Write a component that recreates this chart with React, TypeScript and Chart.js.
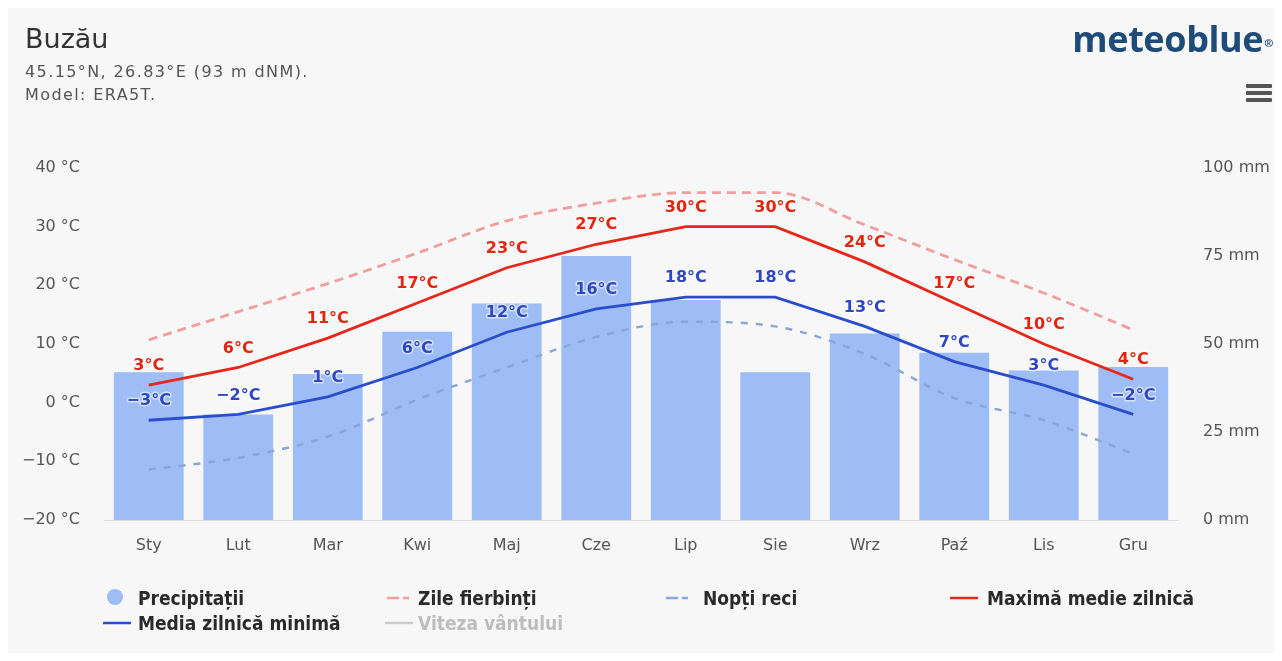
import React, { useEffect, useRef } from "react";
import { Chart, registerables } from "chart.js";

Chart.register(...registerables);

// Monthly climate values for Buzău
const months = ["Sty", "Lut", "Mar", "Kwi", "Maj", "Cze", "Lip", "Sie", "Wrz", "Paź", "Lis", "Gru"];
const precipitation = [42, 30, 41.5, 53.5, 61.5, 75, 62.5, 42, 53, 47.5, 42.5, 43.5];
const hotDays = [10.7, 15.5, 20.3, 25.5, 31, 34, 35.8, 35.8, 30.3, 24.4, 18.7, 12.4];
const coldNights = [-11.4, -9.4, -5.8, 0.5, 6, 11.2, 13.8, 13, 8.3, 0.8, -3, -8.7];
const maxDaily = [3, 6, 11, 17, 23, 27, 30, 30, 24, 17, 10, 4];
const minDaily = [-3, -2, 1, 6, 12, 16, 18, 18, 13, 7, 3, -2];

const tempTicks = [-20, -10, 0, 10, 20, 30, 40];
const precipTicks = [0, 25, 50, 75, 100];

const W = 1266;
const H = 645;

const fmtTemp = (v: number) => (v < 0 ? "\u2212" + Math.abs(v) : String(v));

// Draws the "x°C" value above each point of the temperature lines
const valueLabels = {
  id: "valueLabels",
  afterDatasetsDraw(chart: any) {
    const ctx = chart.ctx;
    chart.data.datasets.forEach((ds: any, i: number) => {
      if (!ds.labelColor) return;
      const meta = chart.getDatasetMeta(i);
      ctx.save();
      ctx.font = 'bold 16px "DejaVu Sans", sans-serif';
      ctx.textAlign = "center";
      ctx.textBaseline = "middle";
      ctx.lineJoin = "round";
      meta.data.forEach((pt: any, j: number) => {
        const text = fmtTemp(ds.data[j]) + "°C";
        const y = pt.y - 19;
        ctx.strokeStyle = "rgba(255,255,255,0.55)";
        ctx.lineWidth = 3;
        ctx.strokeText(text, pt.x, y);
        ctx.fillStyle = ds.labelColor;
        ctx.fillText(text, pt.x, y);
      });
      ctx.restore();
    });
  },
};

const legendText: React.CSSProperties = {
  position: "absolute",
  font: 'bold 19px "DejaVu Sans Condensed", "DejaVu Sans", sans-serif',
  color: "#2a2a2a",
  lineHeight: "20px",
  whiteSpace: "nowrap",
};

function LineIcon({ x, y, color, dash }: { x: number; y: number; color: string; dash?: string }) {
  return (
    <svg style={{ position: "absolute", left: x, top: y - 3 }} width={28} height={6}>
      <line x1={0} y1={3} x2={28} y2={3} stroke={color} strokeWidth={2.5} strokeDasharray={dash} />
    </svg>
  );
}

export default function App() {
  const canvasRef = useRef<HTMLCanvasElement | null>(null);

  useEffect(() => {
    if (!canvasRef.current) return;
    const chart = new Chart(canvasRef.current, {
      type: "bar",
      data: {
        labels: months,
        datasets: [
          {
            type: "line",
            label: "Maximă medie zilnică",
            data: maxDaily,
            yAxisID: "yTemp",
            borderColor: "#e8261a",
            borderWidth: 2.8,
            pointRadius: 0,
            tension: 0,
            order: 1,
            labelColor: "#e3260f",
          } as any,
          {
            type: "line",
            label: "Media zilnică minimă",
            data: minDaily,
            yAxisID: "yTemp",
            borderColor: "#2a4ecb",
            borderWidth: 2.8,
            pointRadius: 0,
            tension: 0,
            order: 2,
            labelColor: "#2f47c2",
          } as any,
          {
            type: "line",
            label: "Zile fierbinți",
            data: hotDays,
            yAxisID: "yTemp",
            borderColor: "#f39e9e",
            borderWidth: 2.8,
            borderDash: [9, 6],
            pointRadius: 0,
            cubicInterpolationMode: "monotone",
            order: 3,
          },
          {
            type: "line",
            label: "Nopți reci",
            data: coldNights,
            yAxisID: "yTemp",
            borderColor: "#8aa6d8",
            borderWidth: 2.4,
            borderDash: [7, 8],
            pointRadius: 0,
            cubicInterpolationMode: "monotone",
            order: 4,
          },
          {
            type: "bar",
            label: "Precipitații",
            data: precipitation,
            yAxisID: "yPrecip",
            backgroundColor: "#9ebcf5",
            borderWidth: 0,
            categoryPercentage: 1,
            barPercentage: 0.78,
            order: 10,
          },
        ],
      },
      options: {
        responsive: false,
        animation: false,
        devicePixelRatio: 1,
        layout: { padding: { top: 160, left: 0, right: 0, bottom: 0 } },
        plugins: {
          legend: { display: false },
          tooltip: { enabled: false },
        },
        scales: {
          x: {
            type: "category",
            offset: true,
            grid: { display: false, drawTicks: false },
            border: { display: true, color: "#dcdcdc", width: 1 },
            ticks: {
              color: "#555",
              font: { family: '"DejaVu Sans", sans-serif', size: 16 },
              padding: 16,
            },
            afterFit(scale: any) {
              scale.height = 133;
            },
          },
          yTemp: {
            type: "linear",
            position: "left",
            min: -20,
            max: 40,
            grid: { display: false, drawTicks: false },
            border: { display: false },
            afterBuildTicks(scale: any) {
              scale.ticks = tempTicks.map((v) => ({ value: v }));
            },
            ticks: {
              color: "#555",
              font: { family: '"DejaVu Sans", sans-serif', size: 16 },
              padding: 24,
              callback: (v: any) => fmtTemp(Number(v)) + " °C",
            },
            afterFit(scale: any) {
              scale.width = 96;
            },
          },
          yPrecip: {
            type: "linear",
            position: "right",
            min: 0,
            max: 100,
            grid: { display: false, drawTicks: false },
            border: { display: false },
            afterBuildTicks(scale: any) {
              scale.ticks = precipTicks.map((v) => ({ value: v }));
            },
            ticks: {
              color: "#555",
              font: { family: '"DejaVu Sans", sans-serif', size: 16 },
              padding: 25,
              callback: (v: any) => v + " mm",
            },
            afterFit(scale: any) {
              scale.width = 96;
            },
          },
        },
      },
      plugins: [valueLabels],
    });
    return () => chart.destroy();
  }, []);

  return (
    <div
      style={{
        position: "relative",
        width: W,
        height: H,
        background: "#f7f7f7",
        fontFamily: '"DejaVu Sans", sans-serif',
      }}
    >
      <canvas ref={canvasRef} width={W} height={H} style={{ position: "absolute", left: 0, top: 0 }} />

      {/* Header */}
      <div style={{ position: "absolute", left: 17, top: 17, fontSize: 27, lineHeight: "27px", color: "#333" }}>
        Buzău
      </div>
      <div
        style={{
          position: "absolute",
          left: 17,
          top: 52,
          fontSize: 16,
          lineHeight: "23px",
          color: "#555",
          letterSpacing: 1.4,
          whiteSpace: "nowrap",
        }}
      >
        <div>45.15°N, 26.83°E (93 m dNM).</div>
        <div>Model: ERA5T.</div>
      </div>

      <div
        style={{
          position: "absolute",
          right: 1,
          top: 13,
          font: 'bold 36px "Open Sans", sans-serif',
          lineHeight: "36px",
          color: "#1e4b78",
          letterSpacing: -0.4,
          whiteSpace: "nowrap",
        }}
      >
        meteoblue
        <span style={{ fontSize: 11, verticalAlign: "top", position: "relative", top: 4, marginLeft: 1 }}>®</span>
      </div>

      {/* Menu icon */}
      {[76, 83, 90].map((t) => (
        <div
          key={t}
          style={{ position: "absolute", left: 1238, top: t, width: 26, height: 4, background: "#555", borderRadius: 1 }}
        />
      ))}

      {/* Legend */}
      <div
        style={{
          position: "absolute",
          left: 99,
          top: 581,
          width: 16,
          height: 16,
          borderRadius: 8,
          background: "#9ebcf5",
        }}
      />
      <div style={{ ...legendText, left: 130, top: 580 }}>Precipitații</div>

      <LineIcon x={379} y={590} color="#f39e9e" dash="12 4 6 6" />
      <div style={{ ...legendText, left: 410, top: 580 }}>Zile fierbinți</div>

      <LineIcon x={658} y={590} color="#8aa6d8" dash="12 4 6 6" />
      <div style={{ ...legendText, left: 695, top: 580 }}>Nopți reci</div>

      <LineIcon x={942} y={590} color="#e8261a" />
      <div style={{ ...legendText, left: 979, top: 580 }}>Maximă medie zilnică</div>

      <LineIcon x={95} y={615} color="#2a4ecb" />
      <div style={{ ...legendText, left: 130, top: 605 }}>Media zilnică minimă</div>

      <LineIcon x={377} y={615} color="#cccccc" />
      <div style={{ ...legendText, left: 410, top: 605, color: "#bdbdbd" }}>Viteza vântului</div>
    </div>
  );
}
